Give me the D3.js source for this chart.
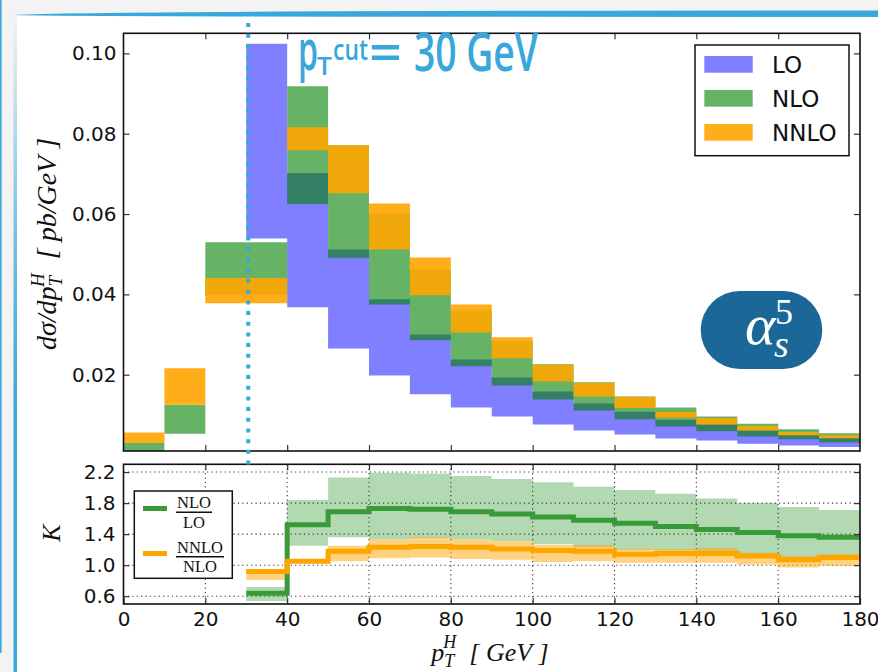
<!DOCTYPE html>
<html><head><meta charset="utf-8">
<script src="https://cdn.jsdelivr.net/npm/d3@7"></script>
<style>body{margin:0;background:#f3f3f3} svg{display:block}</style>
</head><body><svg id="c" width="878" height="672"></svg>
<script>
// ---------- data ----------
const binStart = [0,10,20,30,40,50,60,70,80,90,100,110,120,130,140,150,160,170];
const binWidth = 10;
const loLow   = [null,null,null,0.0539,0.0368,0.0265,0.0198,0.0151,0.0118,0.0096,0.0076,0.0061,0.0051,0.0041,0.0036,0.0028,0.0024,0.0020];
const loHigh  = [null,null,null,0.1024,0.0702,0.0512,0.0388,0.0300,0.0238,0.0193,0.0158,0.0128,0.0108,0.0088,0.0076,0.0061,0.0049,0.0042];
const nloLow  = [0.0005,0.0053,0.0398,0.0398,0.0625,0.0491,0.0375,0.0286,0.0221,0.0173,0.0138,0.0111,0.0089,0.0071,0.0059,0.0046,0.0039,0.0031];
const nloHigh = [0.0030,0.0125,0.0530,0.0530,0.0918,0.0771,0.0601,0.0462,0.0360,0.0284,0.0226,0.0181,0.0146,0.0118,0.0096,0.0078,0.0064,0.0054];
const nnloLow = [0.0030,0.0125,0.0378,0.0378,0.0759,0.0652,0.0512,0.0398,0.0305,0.0241,0.0183,0.0146,0.0117,0.0093,0.0076,0.0061,0.0049,0.0042];
const nnloHigh= [0.0056,0.0216,0.0441,0.0441,0.0816,0.0771,0.0626,0.0492,0.0375,0.0293,0.0225,0.0180,0.0145,0.0108,0.0092,0.0072,0.0057,0.0049];

const kBins      = [30,40,50,60,70,80,90,100,110,120,130,140,150,160,170];
const kNloLo     = [0.64,1.52,1.69,1.73,1.72,1.69,1.66,1.62,1.58,1.54,1.50,1.46,1.42,1.38,1.36];
const kNloLoLow  = [0.54,1.25,1.36,1.33,1.35,1.33,1.31,1.27,1.23,1.20,1.19,1.18,1.14,1.09,1.11];
const kNloLoHigh = [0.72,1.84,2.13,2.19,2.18,2.15,2.11,2.07,2.01,1.97,1.92,1.86,1.80,1.75,1.71];
const kNnloNlo     = [0.92,1.05,1.18,1.23,1.24,1.23,1.21,1.19,1.18,1.14,1.15,1.15,1.12,1.07,1.10];
const kNnloNloLow  = [0.81,1.03,1.05,1.09,1.10,1.08,1.07,1.04,1.05,1.03,1.03,1.03,1.01,0.97,0.99];
const kNnloNloHigh = [0.93,1.07,1.25,1.33,1.36,1.33,1.31,1.26,1.26,1.21,1.21,1.22,1.16,1.12,1.14];

const yTicksTop = [0.02,0.04,0.06,0.08,0.10];
const yTicksK = [0.6,1.0,1.4,1.8,2.2];
const xTicks = [0,20,40,60,80,100,120,140,160,180];
const legendTop = ["LO","NLO","NNLO"];

// ---------- setup ----------
const svg = d3.select("#c");
const BLUE = "#37a7dc";
const FONT = "DejaVu Sans";
const colLO = "rgba(0,0,255,0.5)", colNLO = "rgba(0,128,0,0.6)", colNNLO = "rgba(255,165,0,0.9)";

// slide decoration
svg.append("rect").attr("width",878).attr("height",672).attr("fill","#f3f3f3");
svg.append("rect").attr("x",17).attr("y",16).attr("width",861).attr("height",656).attr("fill","#fff");
const defs = svg.append("defs");
const gr = defs.append("linearGradient").attr("id","lg").attr("x1",0).attr("x2",0).attr("y1",0).attr("y2",1);
gr.append("stop").attr("offset","0").attr("stop-color",BLUE).attr("stop-opacity",0.0);
gr.append("stop").attr("offset","0.35").attr("stop-color",BLUE).attr("stop-opacity",0.7);
gr.append("stop").attr("offset","0.6").attr("stop-color",BLUE).attr("stop-opacity",1);
svg.append("rect").attr("x",0).attr("y",0).attr("width",1.6).attr("height",653).attr("fill",BLUE);
svg.append("rect").attr("x",13.5).attr("y",14).attr("width",3.5).attr("height",658).attr("fill","url(#lg)");
svg.append("path").attr("d","M14,15 Q90,10.5 878,10.5 L878,17 Q90,17 14,15 Z").attr("fill",BLUE);

// ---------- scales ----------
const x = d3.scaleLinear().domain([0,180]).range([123.5,860]);
const yT = d3.scaleLinear().domain([0.001,0.105]).range([451,33.3]);
const yK = d3.scaleLinear().domain([0.5,2.3]).range([604,464.3]);

defs.append("clipPath").attr("id","clipT").append("rect")
  .attr("x",x(0)).attr("y",yT(0.105)).attr("width",x(180)-x(0)).attr("height",yT(0.001)-yT(0.105));
defs.append("clipPath").attr("id","clipK").append("rect")
  .attr("x",x(0)).attr("y",yK(2.3)).attr("width",x(180)-x(0)).attr("height",yK(0.5)-yK(2.3));

function stepPoints(starts, lo, hi, mid){
  const pts = [];
  starts.forEach((s,i)=>{ if(lo[i]!==null) pts.push({x:s, lo:lo[i], hi:hi[i], m: mid?mid[i]:null}); });
  const last = pts[pts.length-1];
  pts.push({x:last.x+binWidth, lo:last.lo, hi:last.hi, m:last.m});
  return pts;
}

// ---------- top panel ----------
const gT = svg.append("g").attr("clip-path","url(#clipT)");
const areaT = d3.area().curve(d3.curveStepAfter).x(d=>x(d.x)).y0(d=>yT(d.lo)).y1(d=>yT(d.hi));
gT.append("path").attr("d",areaT(stepPoints(binStart,loLow,loHigh))).attr("fill",colLO);
gT.append("path").attr("d",areaT(stepPoints(binStart,nloLow,nloHigh))).attr("fill",colNLO);
gT.append("path").attr("d",areaT(stepPoints(binStart,nnloLow,nnloHigh))).attr("fill",colNNLO);

function styleAxis(g){
  g.select(".domain").remove();
  g.selectAll(".tick line").attr("stroke","#333").attr("stroke-width",1.2);
  g.selectAll(".tick text").style("font-family",FONT).style("font-size","20px").attr("fill","#111");
}
svg.append("g").attr("transform",`translate(${x(0)},0)`)
  .call(d3.axisLeft(yT).tickValues(yTicksTop).tickFormat(d3.format(".2f")).tickSizeInner(-6).tickSizeOuter(0).tickPadding(7)).call(styleAxis);
svg.append("g").attr("transform",`translate(${x(180)},0)`)
  .call(d3.axisRight(yT).tickValues(yTicksTop).tickFormat("").tickSizeInner(-6).tickSizeOuter(0)).call(styleAxis);
svg.append("g").attr("transform",`translate(0,${yT(0.105)})`)
  .call(d3.axisTop(x).tickValues(xTicks.slice(1,-1)).tickFormat("").tickSizeInner(-6).tickSizeOuter(0)).call(styleAxis);
svg.append("g").attr("transform",`translate(0,${yT(0.001)})`)
  .call(d3.axisBottom(x).tickValues(xTicks.slice(1,-1)).tickFormat("").tickSizeInner(-6).tickSizeOuter(0)).call(styleAxis);
svg.append("rect").attr("x",x(0)).attr("y",yT(0.105)).attr("width",x(180)-x(0)).attr("height",yT(0.001)-yT(0.105))
  .attr("fill","none").attr("stroke","#111").attr("stroke-width",1.6);

// top legend
const lg = svg.append("g");
lg.append("rect").attr("x",695).attr("y",45).attr("width",154).attr("height",110.7).attr("fill","#fff").attr("stroke","#111").attr("stroke-width",1.5);
[colLO,colNLO,colNNLO].forEach((c,i)=>{
  lg.append("rect").attr("x",704.3).attr("y",56+i*34).attr("width",48.4).attr("height",16.7).attr("fill",c);
  lg.append("text").attr("x",772).attr("y",72.7+i*34).text(legendTop[i])
    .style("font-family",FONT).style("font-size","23px").attr("fill","#111");
});

// y label
const yl = svg.append("text").attr("transform","translate(56,244) rotate(-90)").attr("text-anchor","middle")
  .style("font-family","Liberation Serif").style("font-style","italic").style("font-size","28px").attr("fill","#111");
yl.append("tspan").text("dσ/dp");
yl.append("tspan").style("font-size","19px").attr("dy",6).text("T");
yl.append("tspan").style("font-size","19px").attr("dx",-11).attr("dy",-18).text("H");
yl.append("tspan").attr("dy",12).text("\u00a0\u00a0[\u00a0pb/GeV\u00a0]");

// alpha_s^5 badge
svg.append("rect").attr("x",700.7).attr("y",291).attr("width",121.6).attr("height",78).attr("rx",39).attr("fill","#1b6898");
svg.append("text").attr("x",745).attr("y",344).text("α").style("font-family","Liberation Serif").style("font-style","italic").style("font-size","58px").attr("fill","#fff");
svg.append("text").attr("x",775).attr("y",324).text("5").style("font-family","Liberation Serif").style("font-size","36px").attr("fill","#fff");
svg.append("text").attr("x",774).attr("y",357).text("s").style("font-family","Liberation Serif").style("font-style","italic").style("font-size","38px").attr("fill","#fff");

// ---------- bottom panel ----------
const gridG = svg.append("g");
xTicks.slice(1,-1).forEach(v=>gridG.append("line").attr("x1",x(v)).attr("x2",x(v)).attr("y1",yK(2.3)).attr("y2",yK(0.5)));
yTicksK.forEach(v=>gridG.append("line").attr("x1",x(0)).attr("x2",x(180)).attr("y1",yK(v)).attr("y2",yK(v)));
gridG.selectAll("line").attr("stroke","#333").attr("stroke-width",1.1).attr("stroke-dasharray","1.2,3.2");

const gK = svg.append("g").attr("clip-path","url(#clipK)");
const areaK = d3.area().curve(d3.curveStepAfter).x(d=>x(d.x)).y0(d=>yK(d.lo)).y1(d=>yK(d.hi));
const lineK = d3.line().curve(d3.curveStepAfter).x(d=>x(d.x)).y(d=>yK(d.m));
const ptsG = stepPoints(kBins,kNloLoLow,kNloLoHigh,kNloLo);
const ptsO = stepPoints(kBins,kNnloNloLow,kNnloNloHigh,kNnloNlo);
gK.append("path").attr("d",areaK(ptsG)).attr("fill","rgba(0,128,0,0.3)");
gK.append("path").attr("d",areaK(ptsO)).attr("fill","rgba(255,165,0,0.5)");
gK.append("path").attr("d",lineK(ptsG)).attr("fill","none").attr("stroke","#389a38").attr("stroke-width",5);
gK.append("path").attr("d",lineK(ptsO)).attr("fill","none").attr("stroke","#ffa500").attr("stroke-width",5);

svg.append("g").attr("transform",`translate(${x(0)},0)`)
  .call(d3.axisLeft(yK).tickValues(yTicksK).tickFormat(d3.format(".1f")).tickSizeInner(-6).tickSizeOuter(0).tickPadding(8)).call(styleAxis);
svg.append("g").attr("transform",`translate(${x(180)},0)`)
  .call(d3.axisRight(yK).tickValues(yTicksK).tickFormat("").tickSizeInner(-6).tickSizeOuter(0)).call(styleAxis);
svg.append("g").attr("transform",`translate(0,${yK(0.5)})`)
  .call(d3.axisBottom(x).tickValues(xTicks).tickFormat(d3.format("d")).tickSizeInner(-6).tickSizeOuter(0).tickPadding(7.5)).call(styleAxis);
svg.append("g").attr("transform",`translate(0,${yK(2.3)})`)
  .call(d3.axisTop(x).tickValues(xTicks.slice(1,-1)).tickFormat("").tickSizeInner(-6).tickSizeOuter(0)).call(styleAxis);
svg.append("rect").attr("x",x(0)).attr("y",yK(2.3)).attr("width",x(180)-x(0)).attr("height",yK(0.5)-yK(2.3))
  .attr("fill","none").attr("stroke","#111").attr("stroke-width",1.6);

// K legend
const kl = svg.append("g");
kl.append("rect").attr("x",134.3).attr("y",491).attr("width",98).attr("height",87.3).attr("fill","#fff").attr("stroke","#111").attr("stroke-width",1.5);
kl.append("line").attr("x1",143).attr("x2",167).attr("y1",508.5).attr("y2",508.5).attr("stroke","#389a38").attr("stroke-width",5);
kl.append("line").attr("x1",143).attr("x2",167).attr("y1",553.5).attr("y2",553.5).attr("stroke","#ffa500").attr("stroke-width",5);
function frac(cx, yNum, yBar, yDen, num, den, w){
  kl.append("text").attr("x",cx).attr("y",yNum).attr("text-anchor","middle").text(num)
    .style("font-family","Liberation Serif").style("font-size","16.5px").attr("fill","#111");
  kl.append("line").attr("x1",cx-w/2).attr("x2",cx+w/2).attr("y1",yBar).attr("y2",yBar).attr("stroke","#111").attr("stroke-width",1.6);
  kl.append("text").attr("x",cx).attr("y",yDen).attr("text-anchor","middle").text(den)
    .style("font-family","Liberation Serif").style("font-size","16.5px").attr("fill","#111");
}
frac(194,508,512.3,527.5,"NLO","LO",36);
frac(200,552.5,556.7,571.5,"NNLO","NLO",48);

// K label
svg.append("text").attr("transform","translate(60,533) rotate(-90)").attr("text-anchor","middle").text("K")
  .style("font-family","Liberation Serif").style("font-style","italic").style("font-size","26px").attr("fill","#111");

// x label
const xl = svg.append("text").attr("x",490).attr("y",661).attr("text-anchor","middle")
  .style("font-family","Liberation Serif").style("font-style","italic").style("font-size","26px").attr("fill","#111");
xl.append("tspan").text("p");
xl.append("tspan").style("font-size","18px").attr("dy",6).text("T");
xl.append("tspan").style("font-size","18px").attr("dx",-11).attr("dy",-19).text("H");
xl.append("tspan").attr("dy",13).text("\u00a0\u00a0[\u00a0GeV\u00a0]");

// pT cut annotation
svg.append("line").attr("x1",x(30)+2).attr("x2",x(30)+2).attr("y1",23).attr("y2",466)
  .attr("stroke",BLUE).attr("stroke-width",4).attr("stroke-dasharray","4,6.67");
const ann = svg.append("g").attr("fill",BLUE).style("font-family","Open Sans").style("font-weight","600");
ann.append("text").attr("x",298).attr("y",70).text("p").style("font-size","56px").attr("textLength",20).attr("lengthAdjust","spacingAndGlyphs");
ann.append("text").attr("x",317).attr("y",75).text("T").style("font-size","26px").attr("textLength",15).attr("lengthAdjust","spacingAndGlyphs");
ann.append("text").attr("x",333).attr("y",60).text("cut").style("font-size","29px").attr("textLength",35).attr("lengthAdjust","spacingAndGlyphs");
ann.append("text").attr("x",369).attr("y",71).text("=").style("font-size","52px").attr("textLength",33).attr("lengthAdjust","spacingAndGlyphs");
ann.append("text").attr("x",414).attr("y",71).text("30 GeV").style("font-size","52px").attr("textLength",124).attr("lengthAdjust","spacingAndGlyphs");
</script></body></html>
